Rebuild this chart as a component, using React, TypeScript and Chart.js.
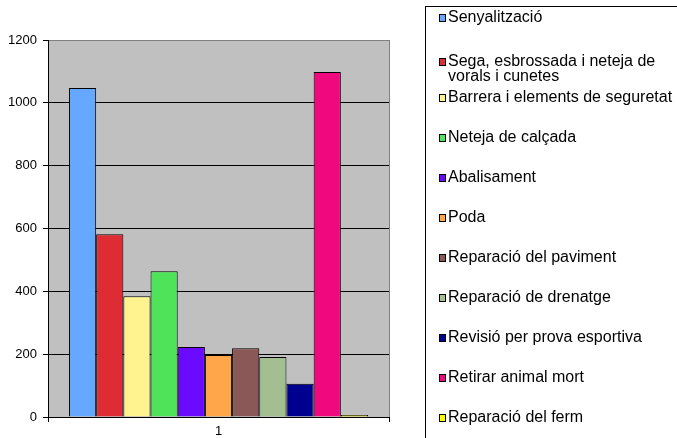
import React, { useEffect, useRef } from "react";
import { Chart, registerables } from "chart.js";

Chart.register(...registerables);

const categories: string[] = ["1"];
const seriesNames: string[] = [
  "Senyalització",
  "Sega, esbrossada i neteja de vorals i cunetes",
  "Barrera i elements de seguretat",
  "Neteja de calçada",
  "Abalisament",
  "Poda",
  "Reparació del paviment",
  "Reparació de drenatge",
  "Revisió per prova esportiva",
  "Retirar animal mort",
  "Reparació del ferm",
];
const seriesValues: number[] = [1047, 582, 384, 464, 223, 197, 219, 191, 106, 1098, 6];
const seriesColors: string[] = [
  "#66A8FF",
  "#DD2C33",
  "#FFF38F",
  "#4FE35A",
  "#6A0AFF",
  "#FFA64A",
  "#8B5858",
  "#A3BE90",
  "#000090",
  "#F0087F",
  "#FFFF00",
];
const yMin = 0;
const yMax = 1200;
const yStep = 200;

const FONT = "'Liberation Sans', Arial, sans-serif";

const bgPlugin = {
  id: "plotBg",
  beforeDraw(chart: any) {
    const { ctx, chartArea } = chart;
    ctx.save();
    ctx.fillStyle = "#C0C0C0";
    ctx.fillRect(chartArea.left, chartArea.top, chartArea.right - chartArea.left, chartArea.bottom - chartArea.top);
    ctx.restore();
  },
  beforeDatasetsDraw(chart: any) {
    const { ctx, chartArea } = chart;
    ctx.save();
    ctx.strokeStyle = "#808080";
    ctx.lineWidth = 1;
    ctx.beginPath();
    ctx.moveTo(Math.round(chartArea.right) + 0.5, chartArea.top);
    ctx.lineTo(Math.round(chartArea.right) + 0.5, chartArea.bottom);
    ctx.stroke();
    ctx.restore();
  },
};

const legendPlugin = {
  id: "boxLegend",
  afterDraw(chart: any) {
    const { ctx } = chart;
    ctx.save();
    ctx.strokeStyle = "#000";
    ctx.lineWidth = 1;
    ctx.strokeRect(425.5, 6.5, 400, 600);
    ctx.font = `16px ${FONT}`;
    ctx.textBaseline = "middle";
    ctx.textAlign = "left";
    const maxW = 228;
    chart.data.datasets.forEach((ds: any, i: number) => {
      const words = String(ds.label).split(" ");
      const lines: string[] = [];
      let cur = "";
      words.forEach((w) => {
        const t = cur ? cur + " " + w : w;
        if (cur && ctx.measureText(t).width > maxW) {
          lines.push(cur);
          cur = w;
        } else cur = t;
      });
      lines.push(cur);
      const base = 18 + 40 * i;
      const y0 = lines.length > 1 ? base + 4 : base;
      ctx.fillStyle = ds.backgroundColor;
      ctx.fillRect(439, y0 - 3.5, 7, 7);
      ctx.strokeStyle = "#000";
      ctx.strokeRect(439.5, y0 - 3.5, 6, 7);
      ctx.fillStyle = "#000";
      lines.forEach((ln, k) => {
        ctx.fillText(ln, 448, y0 + 15 * k);
      });
    });
    ctx.restore();
  },
};

export default function App() {
  const ref = useRef<HTMLCanvasElement | null>(null);
  useEffect(() => {
    if (!ref.current) return;
    const chart = new Chart(ref.current, {
      type: "bar",
      data: {
        labels: categories,
        datasets: seriesNames.map((name, i) => ({
          label: name,
          data: [seriesValues[i]],
          backgroundColor: seriesColors[i],
          borderColor: "#000",
          borderWidth: 1,
          categoryPercentage: 0.877,
          barPercentage: 1,
        })),
      },
      options: {
        animation: false,
        responsive: false,
        devicePixelRatio: 1,
        layout: { padding: { top: 40, right: 288, left: 0, bottom: 0 } },
        plugins: { legend: { display: false }, tooltip: { enabled: false } },
        scales: {
          x: {
            afterFit: (s: any) => {
              s.height = 21;
            },
            grid: { drawOnChartArea: false, drawTicks: true, tickLength: 5, color: "#000", offset: true },
            border: { color: "#000", width: 1 },
            ticks: { color: "#000", font: { family: FONT, size: 13 }, padding: 2 },
          },
          y: {
            min: yMin,
            max: yMax,
            afterFit: (s: any) => {
              s.width = 48;
            },
            grid: {
              color: (c: any) => (c.tick && c.tick.value === yMax ? "#808080" : "#000"),
              tickColor: "#000",
              tickLength: 5,
              lineWidth: 1,
            },
            border: { color: "#000", width: 1 },
            ticks: {
              stepSize: yStep,
              color: "#000",
              font: { family: FONT, size: 13 },
              padding: 6,
              callback: (v: any) => String(v),
            },
          },
        },
      },
      plugins: [bgPlugin, legendPlugin],
    });
    return () => chart.destroy();
  }, []);
  return (
    <div style={{ position: "fixed", left: 0, top: 0, width: 677, height: 438, background: "#fff" }}>
      <canvas ref={ref} width={677} height={438} />
    </div>
  );
}
